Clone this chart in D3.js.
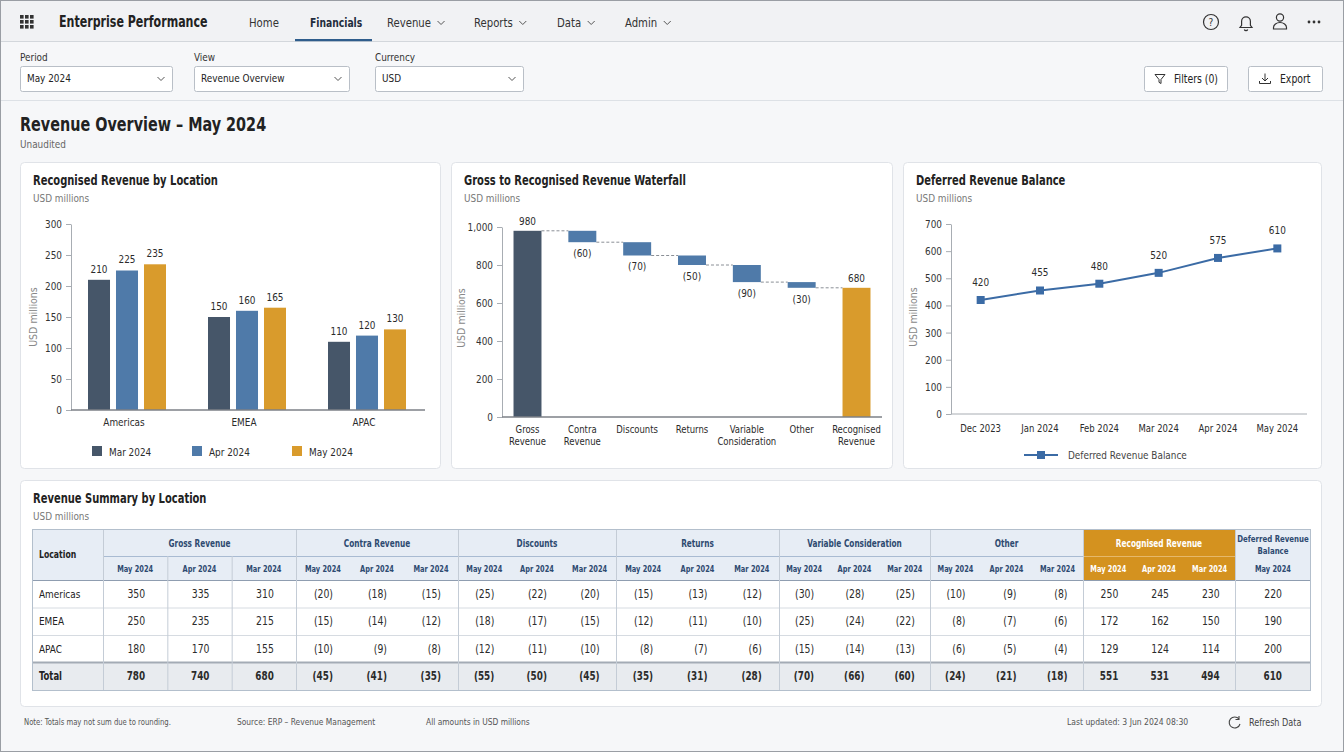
<!DOCTYPE html>
<html>
<head>
<meta charset="utf-8">
<script src="https://cdn.jsdelivr.net/npm/d3@7"></script>
<style>
html, body { margin: 0; padding: 0; background: #f6f7f9; }
svg { display: block; }
</style>
</head>
<body>
<script>
// ---- data ----
const locations = ["Americas", "EMEA", "APAC"];
const barMonths = ["Mar 2024", "Apr 2024", "May 2024"];
const recMar = [210, 150, 110];
const recApr = [225, 160, 120];
const recMay = [235, 165, 130];

const wfSteps = ["Gross Revenue", "Contra Revenue", "Discounts", "Returns", "Variable Consideration", "Other", "Recognised Revenue"];
const wfValues = [980, -60, -70, -50, -90, -30, 680];

const defMonths = ["Dec 2023", "Jan 2024", "Feb 2024", "Mar 2024", "Apr 2024", "May 2024"];
const defValues = [420, 455, 480, 520, 575, 610];

const tableRows = ["Americas", "EMEA", "APAC", "Total"];
const tableGroups = ["Gross Revenue", "Contra Revenue", "Discounts", "Returns", "Variable Consideration", "Other", "Recognised Revenue"];
const tablePeriods = ["May 2024", "Apr 2024", "Mar 2024"];
const grossRev = [[350, 335, 310], [250, 235, 215], [180, 170, 155], [780, 740, 680]];
const contraRev = [[-20, -18, -15], [-15, -14, -12], [-10, -9, -8], [-45, -41, -35]];
const discounts = [[-25, -22, -20], [-18, -17, -15], [-12, -11, -10], [-55, -50, -45]];
const returnsVals = [[-15, -13, -12], [-12, -11, -10], [-8, -7, -6], [-35, -31, -28]];
const variableCons = [[-30, -28, -25], [-25, -24, -22], [-15, -14, -13], [-70, -66, -60]];
const otherVals = [[-10, -9, -8], [-8, -7, -6], [-6, -5, -4], [-24, -21, -18]];
const recognisedRev = [[250, 245, 230], [172, 162, 150], [129, 124, 114], [551, 531, 494]];
const deferredMay = [220, 190, 200, 610];

const navItems = ["Home", "Financials", "Revenue", "Reports", "Data", "Admin"];

// ---- style ----
const cDark = "#465669", cBlue = "#4f7aa9", cGold = "#d99b2c", cLine = "#3b6ba5";
const txt = "#2b2b2b", sub = "#777";
const squeeze = 0.9, squeezeBold = 0.82;   // the reference face is narrower than what we have

const svg = d3.select("body").append("svg")
    .attr("width", 1344)
    .attr("height", 752)
    .style("font-family", "'DejaVu Sans Condensed', 'Liberation Sans Narrow', 'DejaVu Sans', sans-serif");

svg.append("rect").attr("width", 1344).attr("height", 752).attr("fill", "#f6f7f9");

// ---- top nav ----
svg.append("rect").attr("width", 1344).attr("height", 41).attr("fill", "#f1f2f4");
svg.append("line").attr("x1", 0).attr("x2", 1344).attr("y1", 41.5).attr("y2", 41.5).attr("stroke", "#d3d7dc");

svg.append("g").selectAll("rect")
    .data(d3.range(9))
    .enter().append("rect")
    .attr("x", d => 20 + (d % 3) * 5)
    .attr("y", d => 15 + Math.floor(d / 3) * 5)
    .attr("width", 3.6).attr("height", 3.6)
    .attr("fill", "#333");

svg.append("text").attr("x", 59).attr("y", 27).attr("font-size", 15).attr("font-weight", 600)
    .attr("fill", "#222").text("Enterprise Performance");

const navX = [249, 310, 387, 474, 557, 625];
navItems.forEach((n, i) => {
    const t = svg.append("text").attr("x", navX[i]).attr("y", 27).attr("font-size", 12.5)
        .attr("fill", i === 1 ? "#1f2d3d" : "#333").attr("font-weight", i === 1 ? 600 : 400).text(n);
    if (i > 1) {
        const w = t.node().getComputedTextLength() * squeeze;
        const cx = navX[i] + w + 10;
        svg.append("path").attr("d", `M${cx - 3.5},21 l3.5,3.5 l3.5,-3.5`)
            .attr("fill", "none").attr("stroke", "#555").attr("stroke-width", 1);
    }
});
svg.append("rect").attr("x", 295).attr("y", 39).attr("width", 77).attr("height", 2.2).attr("fill", "#2f5d8c");

// right icons
const ic = svg.append("g").attr("fill", "none").attr("stroke", "#333").attr("stroke-width", 1.2);
ic.append("circle").attr("cx", 1211).attr("cy", 22).attr("r", 7.5);
svg.append("text").attr("x", 1211).attr("y", 26).attr("text-anchor", "middle").attr("font-size", 11)
    .attr("fill", "#333").text("?");
ic.append("path").attr("d", "M1240,27.5 h12 l-1.6,-2.2 v-4 a4.4,4.4 0 0 0 -8.8,0 v4 z");
ic.append("path").attr("d", "M1244.3,29.5 a1.8,1.8 0 0 0 3.4,0");
ic.append("circle").attr("cx", 1280).attr("cy", 17.5).attr("r", 3.6);
ic.append("path").attr("d", "M1273.5,29 v-1.5 a6.5,5 0 0 1 13,0 v1.5 z");
svg.append("g").selectAll("circle").data([1309, 1314, 1319]).enter().append("circle")
    .attr("cx", d => d).attr("cy", 22).attr("r", 1.4).attr("fill", "#333");

// ---- filter bar ----
svg.append("line").attr("x1", 0).attr("x2", 1344).attr("y1", 100.5).attr("y2", 100.5).attr("stroke", "#dde1e6");
const filters = [
    { label: "Period", value: "May 2024", x: 20, w: 152 },
    { label: "View", value: "Revenue Overview", x: 194, w: 155 },
    { label: "Currency", value: "USD", x: 375, w: 148 }
];
filters.forEach(f => {
    svg.append("text").attr("x", f.x).attr("y", 61).attr("font-size", 11).attr("fill", "#333").text(f.label);
    svg.append("rect").attr("x", f.x + 0.5).attr("y", 66.5).attr("width", f.w).attr("height", 25).attr("rx", 2)
        .attr("fill", "#fff").attr("stroke", "#b9bfc7");
    svg.append("text").attr("x", f.x + 7).attr("y", 82.5).attr("font-size", 11).attr("fill", "#222").text(f.value);
    const cx = f.x + f.w - 11;
    svg.append("path").attr("d", `M${cx - 3.5},77 l3.5,3.5 l3.5,-3.5`)
        .attr("fill", "none").attr("stroke", "#555");
});
svg.append("rect").attr("x", 1144.5).attr("y", 66.5).attr("width", 83).attr("height", 25).attr("rx", 2)
    .attr("fill", "#fff").attr("stroke", "#b9bfc7");
svg.append("path").attr("d", "M1155,74.5 h10 l-4,5 v4 l-2,-1.2 v-2.8 z").attr("fill", "none").attr("stroke", "#333");
svg.append("text").attr("x", 1174).attr("y", 83).attr("font-size", 11.5).attr("fill", "#222").text("Filters (0)");
svg.append("rect").attr("x", 1248.5).attr("y", 66.5).attr("width", 74).attr("height", 25).attr("rx", 2)
    .attr("fill", "#fff").attr("stroke", "#b9bfc7");
svg.append("path").attr("d", "M1265,73.5 v7 M1262,78 l3,3 l3,-3 M1259.5,81 v2.5 h11 v-2.5").attr("fill", "none").attr("stroke", "#333");
svg.append("text").attr("x", 1280).attr("y", 83).attr("font-size", 11.5).attr("fill", "#222").text("Export");

// ---- page title ----
svg.append("text").attr("x", 20).attr("y", 131).attr("font-size", 19.5).attr("font-weight", 600)
    .attr("fill", "#222").text("Revenue Overview \u2013 May 2024");
svg.append("text").attr("x", 20).attr("y", 148).attr("font-size", 11).attr("fill", "#666").text("Unaudited");

// ---- panels ----
function panel(x, y, w, h, title) {
    svg.append("rect").attr("x", x + 0.5).attr("y", y + 0.5).attr("width", w).attr("height", h).attr("rx", 4)
        .attr("fill", "#fff").attr("stroke", "#e0e3e8");
    svg.append("text").attr("x", x + 13).attr("y", y + 23).attr("font-size", 13.5).attr("font-weight", 600)
        .attr("fill", "#222").text(title);
    svg.append("text").attr("x", x + 13).attr("y", y + 40).attr("font-size", 11).attr("fill", sub).text("USD millions");
}
panel(20, 162, 420, 306, "Recognised Revenue by Location");
panel(451, 162, 441, 306, "Gross to Recognised Revenue Waterfall");
panel(903, 162, 418, 306, "Deferred Revenue Balance");
panel(20, 480, 1301, 226, "Revenue Summary by Location");

function styleAxis(g) {
    g.attr("font-family", null).attr("font-size", 11);
    g.select(".domain").attr("stroke", "#a8adb3");
    g.selectAll(".tick line").attr("stroke", "#a8adb3");
    g.selectAll(".tick text").attr("fill", "#333");
}
function yTitle(x, y) {
    svg.append("text").attr("transform", `translate(${x},${y}) rotate(-90)`).attr("text-anchor", "middle")
        .attr("font-size", 10.5).attr("fill", "#888").text("USD millions");
}

// ---- chart 1: grouped bars ----
const recSeries = [recMar, recApr, recMay];
const barColors = [cDark, cBlue, cGold];
const x0 = d3.scaleBand().domain(locations).range([67, 427]).paddingInner(0.35).paddingOuter(0.175);
const x1 = d3.scaleBand().domain(barMonths).range([0, x0.bandwidth()]).paddingInner(0.214);
const y1 = d3.scaleLinear().domain([0, 300]).range([410, 224]);

svg.append("g").attr("transform", "translate(71,0)")
    .call(d3.axisLeft(y1).tickValues(d3.range(0, 301, 50)).tickSize(5).tickSizeOuter(0).tickPadding(4))
    .call(styleAxis);
yTitle(37, 317);

const bars1 = [];
locations.forEach((loc, i) => barMonths.forEach((m, j) => bars1.push({ loc, m, j, v: recSeries[j][i] })));
svg.append("g").selectAll("rect").data(bars1).enter().append("rect")
    .attr("x", d => x0(d.loc) + x1(d.m))
    .attr("y", d => y1(d.v))
    .attr("width", x1.bandwidth())
    .attr("height", d => y1(0) - y1(d.v))
    .attr("fill", d => barColors[d.j]);
svg.append("g").selectAll("text").data(bars1).enter().append("text")
    .attr("x", d => x0(d.loc) + x1(d.m) + x1.bandwidth() / 2)
    .attr("y", d => y1(d.v) - 7)
    .attr("text-anchor", "middle").attr("font-size", 11).attr("fill", txt)
    .text(d => d.v);
svg.append("line").attr("x1", 71).attr("x2", 425).attr("y1", y1(0)).attr("y2", y1(0))
    .attr("stroke", "#7d8187").attr("stroke-width", 1.5);
svg.append("g").selectAll("text").data(locations).enter().append("text")
    .attr("x", d => x0(d) + x0.bandwidth() / 2 - 3).attr("y", 426)
    .attr("text-anchor", "middle").attr("font-size", 11).attr("fill", txt).text(d => d);

const leg1 = svg.append("g").selectAll("g").data(barMonths).enter().append("g")
    .attr("transform", (d, i) => `translate(${92 + i * 100},446)`);
leg1.append("rect").attr("width", 10).attr("height", 10).attr("fill", (d, i) => barColors[i]);
leg1.append("text").attr("x", 17).attr("y", 9.5).attr("font-size", 11).attr("fill", txt).text(d => d);

// ---- chart 2: waterfall ----
let run = 0;
const wf = wfValues.map((v, i) => {
    let a, b, kind;
    if (i === 0) { a = 0; b = v; run = v; kind = "start"; }
    else if (i === wfValues.length - 1) { a = 0; b = v; kind = "end"; }
    else { a = run; b = run + v; run = b; kind = "step"; }
    return { name: wfSteps[i], v, lo: Math.min(a, b), hi: Math.max(a, b), end: kind === "step" ? b : v, kind };
});
const xw = d3.scaleBand().domain(wfSteps).range([502, 882]).paddingInner(0.49).paddingOuter(0.21);
const yw = d3.scaleLinear().domain([0, 1000]).range([417, 227]);

svg.append("g").attr("transform", "translate(502,0)")
    .call(d3.axisLeft(yw).tickValues(d3.range(0, 1001, 200)).tickFormat(d3.format(",")).tickSize(5).tickSizeOuter(0).tickPadding(4))
    .call(styleAxis);
yTitle(465, 318);

svg.append("g").selectAll("line").data(wf.slice(0, -1)).enter().append("line")
    .attr("x1", d => xw(d.name) + xw.bandwidth())
    .attr("x2", (d, i) => xw(wfSteps[i + 1]))
    .attr("y1", d => yw(d.end)).attr("y2", d => yw(d.end))
    .attr("stroke", "#8a8f96").attr("stroke-dasharray", "3,2");
svg.append("g").selectAll("rect").data(wf).enter().append("rect")
    .attr("x", d => xw(d.name))
    .attr("y", d => yw(d.hi))
    .attr("width", xw.bandwidth())
    .attr("height", d => yw(d.lo) - yw(d.hi))
    .attr("fill", d => d.kind === "start" ? cDark : d.kind === "end" ? cGold : cBlue);
svg.append("g").selectAll("text").data(wf).enter().append("text")
    .attr("x", d => xw(d.name) + xw.bandwidth() / 2)
    .attr("y", d => d.kind === "step" ? yw(d.lo) + 15 : yw(d.hi) - 6)
    .attr("text-anchor", "middle").attr("font-size", 11).attr("fill", txt)
    .text(d => d.v < 0 ? `(${-d.v})` : d.v);
svg.append("line").attr("x1", 502).attr("x2", 882).attr("y1", yw(0)).attr("y2", yw(0))
    .attr("stroke", "#7d8187").attr("stroke-width", 1.5);
const wl = svg.append("g").selectAll("text").data(wfSteps).enter().append("text")
    .attr("x", d => xw(d) + xw.bandwidth() / 2)
    .attr("text-anchor", "middle").attr("font-size", 10.5).attr("fill", txt);
wl.selectAll("tspan").data(d => d.split(" ").map(w => ({ w, c: xw(d) + xw.bandwidth() / 2 }))).enter().append("tspan")
    .attr("x", d => d.c).attr("y", (d, i) => 433 + i * 12.5).text(d => d.w);

// ---- chart 3: line ----
const xl = d3.scalePoint().domain(defMonths).range([951, 1307]).padding(0.5);
const yl = d3.scaleLinear().domain([0, 700]).range([414, 224]);
svg.append("g").attr("transform", "translate(951,0)")
    .call(d3.axisLeft(yl).tickValues(d3.range(0, 701, 100)).tickSize(5).tickSizeOuter(0).tickPadding(4))
    .call(styleAxis);
yTitle(917, 317);
svg.append("line").attr("x1", 951).attr("x2", 1307).attr("y1", yl(0)).attr("y2", yl(0))
    .attr("stroke", "#a8adb3").attr("stroke-width", 1);
svg.append("g").selectAll("text").data(defMonths).enter().append("text")
    .attr("x", d => xl(d)).attr("y", 432).attr("text-anchor", "middle").attr("font-size", 10.5)
    .attr("fill", txt).text(d => d);
svg.append("path").datum(defValues)
    .attr("d", d3.line().x((d, i) => xl(defMonths[i])).y(d => yl(d)))
    .attr("fill", "none").attr("stroke", cLine).attr("stroke-width", 2);
svg.append("g").selectAll("rect").data(defValues).enter().append("rect")
    .attr("x", (d, i) => xl(defMonths[i]) - 4).attr("y", d => yl(d) - 4)
    .attr("width", 8).attr("height", 8).attr("fill", cLine);
svg.append("g").selectAll("text").data(defValues).enter().append("text")
    .attr("x", (d, i) => xl(defMonths[i])).attr("y", d => yl(d) - 14)
    .attr("text-anchor", "middle").attr("font-size", 11).attr("fill", txt).text(d => d);
svg.append("line").attr("x1", 1024).attr("x2", 1058).attr("y1", 455).attr("y2", 455)
    .attr("stroke", cLine).attr("stroke-width", 2);
svg.append("rect").attr("x", 1037).attr("y", 451).attr("width", 8).attr("height", 8).attr("fill", cLine);
svg.append("text").attr("x", 1068).attr("y", 459).attr("font-size", 11).attr("fill", "#444").text("Deferred Revenue Balance");

// ---- table ----
const groupData = [grossRev, contraRev, discounts, returnsVals, variableCons, otherVals, recognisedRev];
const groupW = [193, 162, 158, 163, 151, 153, 152];
const tX = 32, locW = 71, defW = 76, tTop = 529, h1 = 556, h2 = 580, tBot = 690;
const groupX = [];
groupW.reduce((acc, w) => { groupX.push(acc); return acc + w; }, tX + locW);
const defX = groupX[6] + groupW[6];
const tRight = defX + defW;
const rowY = d3.scaleBand().domain(tableRows).range([h2, tBot]);
const hdrBlue = "#e7edf5", hdrTxt = "#2e4a70";

const tg = svg.append("g");
tg.append("rect").attr("x", tX).attr("y", tTop).attr("width", tRight - tX).attr("height", h2 - tTop).attr("fill", hdrBlue);
tg.append("rect").attr("x", groupX[6]).attr("y", tTop).attr("width", groupW[6]).attr("height", h2 - tTop).attr("fill", "#d4921f");
tg.append("rect").attr("x", tX).attr("y", rowY("Total")).attr("width", tRight - tX).attr("height", rowY.bandwidth()).attr("fill", "#e8ebef");

// horizontal rules
tg.selectAll("line.row").data(tableRows.slice(1, 3)).enter().append("line")
    .attr("x1", tX).attr("x2", tRight).attr("y1", d => rowY(d) + 0.5).attr("y2", d => rowY(d) + 0.5)
    .attr("stroke", "#d6dbe1");
tg.append("line").attr("x1", groupX[0]).attr("x2", defX).attr("y1", h1 + 0.5).attr("y2", h1 + 0.5).attr("stroke", "#a9bbd2");
tg.append("line").attr("x1", groupX[6]).attr("x2", defX).attr("y1", h1 + 0.5).attr("y2", h1 + 0.5).attr("stroke", "#e6b86a");
tg.append("line").attr("x1", tX).attr("x2", tRight).attr("y1", h2 + 0.5).attr("y2", h2 + 0.5).attr("stroke", "#8f9db0").attr("stroke-width", 1.2);
tg.append("line").attr("x1", tX).attr("x2", tRight).attr("y1", rowY("Total")).attr("y2", rowY("Total")).attr("stroke", "#a3abb5").attr("stroke-width", 2);

// vertical rules
const vLines = groupX.concat([defX]);
tg.selectAll("line.v").data(vLines).enter().append("line")
    .attr("x1", d => d + 0.5).attr("x2", d => d + 0.5).attr("y1", tTop).attr("y2", tBot).attr("stroke", "#c4ccd6");
tg.selectAll("line.gv").data([1, 2]).enter().append("line")
    .attr("x1", d => groupX[0] + d * groupW[0] / 3 + 0.5).attr("x2", d => groupX[0] + d * groupW[0] / 3 + 0.5)
    .attr("y1", h1).attr("y2", tBot).attr("stroke", "#c4ccd6");
tg.append("rect").attr("x", tX + 0.5).attr("y", tTop + 0.5).attr("width", tRight - tX - 1).attr("height", tBot - tTop)
    .attr("fill", "none").attr("stroke", "#b3bfcc");

// header text
tg.append("text").attr("x", tX + 7).attr("y", 558).attr("font-size", 10.5).attr("font-weight", 600).attr("fill", "#222").text("Location");
tg.selectAll("text.grp").data(tableGroups).enter().append("text")
    .attr("x", (d, i) => groupX[i] + groupW[i] / 2).attr("y", 547)
    .attr("text-anchor", "middle").attr("font-size", 10).attr("font-weight", 600)
    .attr("fill", (d, i) => i === 6 ? "#fff" : hdrTxt).text(d => d);
const subCols = [];
tableGroups.forEach((g, gi) => tablePeriods.forEach((p, pi) => subCols.push({
    gi, pi, p, c: groupX[gi] + (pi + 0.5) * groupW[gi] / 3
})));
tg.selectAll("text.sub").data(subCols).enter().append("text")
    .attr("x", d => d.c).attr("y", 572).attr("text-anchor", "middle").attr("font-size", 9).attr("font-weight", 600)
    .attr("fill", d => d.gi === 6 ? "#fff" : hdrTxt).text(d => d.p);
const defHdr = tg.append("text").attr("x", defX + defW / 2).attr("text-anchor", "middle").attr("font-size", 9.5)
    .attr("font-weight", 600).attr("fill", hdrTxt);
defHdr.append("tspan").attr("x", defX + defW / 2).attr("y", 542).text("Deferred Revenue");
defHdr.append("tspan").attr("x", defX + defW / 2).attr("y", 554).text("Balance");
tg.append("text").attr("x", defX + defW / 2).attr("y", 572).attr("text-anchor", "middle").attr("font-size", 9).attr("font-weight", 600)
    .attr("fill", hdrTxt).text(tablePeriods[0]);

// body
const fmt = v => v < 0 ? `(${-v})` : String(v);
tableRows.forEach((r, ri) => {
    const isTot = r === "Total";
    const y = rowY(r) + rowY.bandwidth() / 2 + 4;
    tg.append("text").attr("x", tX + 7).attr("y", y).attr("font-size", isTot ? 11.5 : 11)
        .attr("font-weight", isTot ? 700 : 400).attr("fill", "#222").text(r);
    tg.selectAll(null).data(subCols).enter().append("text")
        .attr("x", d => d.c + 10).attr("y", y).attr("text-anchor", "end")
        .attr("font-size", isTot ? 12 : 11.5).attr("font-weight", isTot ? 700 : 400).attr("fill", "#2b2b2b")
        .text(d => fmt(groupData[d.gi][ri][d.pi]));
    tg.append("text").attr("x", defX + defW / 2 + 9).attr("y", y).attr("text-anchor", "end")
        .attr("font-size", isTot ? 12 : 11.5).attr("font-weight", isTot ? 700 : 400).attr("fill", "#2b2b2b")
        .text(deferredMay[ri]);
});

// ---- footer ----
const foot = [["Note: Totals may not sum due to rounding.", 24, 8.5], ["Source: ERP \u2013 Revenue Management", 237, 9.3], ["All amounts in USD millions", 426, 9.3]];
foot.forEach(f => svg.append("text").attr("x", f[1]).attr("y", 725).attr("font-size", f[2]).attr("fill", "#555").text(f[0]));
svg.append("text").attr("x", 1067).attr("y", 725).attr("font-size", 9.5).attr("fill", "#555").text("Last updated: 3 Jun 2024 08:30");
svg.append("path").attr("d", "M1239,719 a5.5,5.5 0 1 0 1,5 M1239,716 v3.5 h-3.5").attr("fill", "none").attr("stroke", "#444").attr("stroke-width", 1.1);
svg.append("text").attr("x", 1249).attr("y", 726).attr("font-size", 10).attr("fill", "#444").text("Refresh Data");

svg.append("rect").attr("x", 0.5).attr("y", 0.5).attr("width", 1343).attr("height", 751)
    .attr("fill", "none").attr("stroke", "#9a9ea4");

// narrow every horizontal label around its anchor so widths follow the reference face
svg.selectAll("text").each(function () {
    const t = d3.select(this);
    const tr = t.attr("transform") || "";
    if (tr.includes("rotate")) return;
    const s = +(t.attr("font-weight") || 400) >= 600 ? squeezeBold : squeeze;
    const x = +(t.attr("x") || 0);
    t.attr("transform", `${tr} translate(${x},0) scale(${s},1) translate(${-x},0)`);
});
</script>
</body>
</html>
